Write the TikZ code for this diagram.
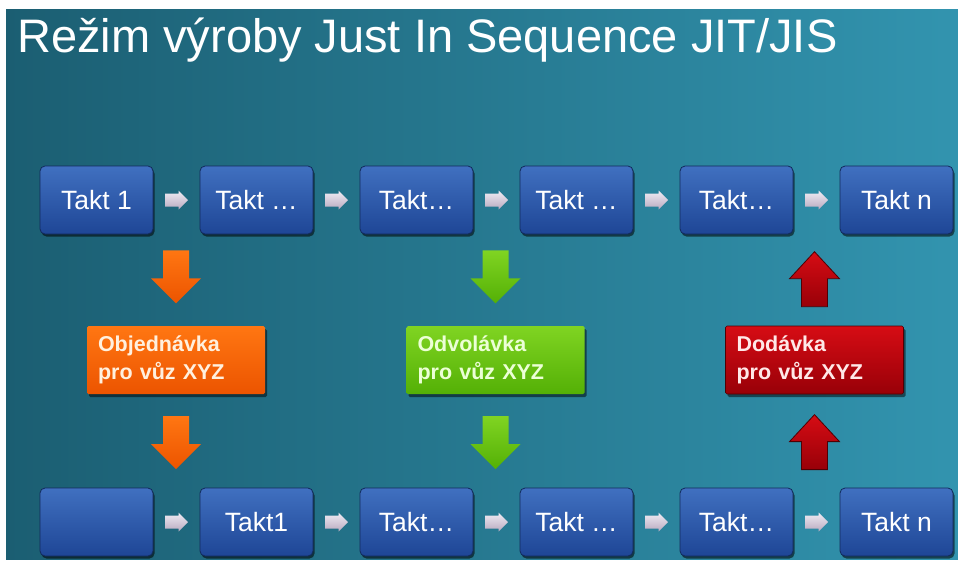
\documentclass[tikz,border=0pt]{standalone}
\usepackage{fontspec}
\setmainfont{Liberation Sans}
\usetikzlibrary{calc,shadows}

\definecolor{bgleft}{RGB}{27,94,114}
\definecolor{bgright}{RGB}{50,148,175}
\definecolor{boxtop}{RGB}{64,112,192}
\definecolor{boxbot}{RGB}{30,70,150}
\definecolor{boxedge}{RGB}{18,42,92}
\definecolor{arrtop}{RGB}{240,236,244}
\definecolor{arrbot}{RGB}{185,170,192}
\definecolor{ortop}{RGB}{255,118,18}
\definecolor{orbot}{RGB}{236,84,0}
\definecolor{ortext}{RGB}{255,240,222}
\definecolor{grtop}{RGB}{128,212,34}
\definecolor{grbot}{RGB}{84,176,6}
\definecolor{grtext}{RGB}{236,255,214}
\definecolor{rdtop}{RGB}{214,12,20}
\definecolor{rdbot}{RGB}{152,0,8}
\definecolor{rdtext}{RGB}{255,232,232}
\definecolor{rdedge}{RGB}{80,0,4}

\tikzset{
  takt/.style={rectangle, rounded corners=5pt, minimum width=113pt, minimum height=68pt,
    top color=boxtop, bottom color=boxbot, draw=boxedge, line width=0.8pt,
    text=white, inner sep=0pt, font=\fontsize{26.5}{30}\selectfont,
    drop shadow={shadow xshift=1.5pt, shadow yshift=-2.5pt, opacity=0.55, fill=black}},
  orderbox/.style={rectangle, rounded corners=1.5pt, minimum height=68pt,
    text width=156pt, inner xsep=11pt, inner ysep=0pt, align=left,
    font=\bfseries\fontsize{21.5}{28}\selectfont,
    drop shadow={shadow xshift=2pt, shadow yshift=-3pt, opacity=0.5, fill=black}},
  orangebox/.style={orderbox, top color=ortop, bottom color=orbot, text=ortext},
  greenbox/.style={orderbox, top color=grtop, bottom color=grbot, text=grtext},
  redbox/.style={orderbox, top color=rdtop, bottom color=rdbot, draw=rdedge, line width=0.6pt, text=rdtext},
  orangearr/.style={top color=ortop, bottom color=orbot},
  greenarr/.style={top color=grtop, bottom color=grbot},
  redarr/.style={top color=rdtop, bottom color=rdbot, draw=rdedge, line width=0.8pt},
  pics/smallarr/.style={code={
    \path[top color=arrtop, bottom color=arrbot]
      (-11.5,-6.5) -- (2,-6.5) -- (2,-9.5) -- (11.5,0) -- (2,9.5) -- (2,6.5) -- (-11.5,6.5) -- cycle;}},
  pics/blockdown/.style={code={
    \path[pic actions] (-13,0) -- (13,0) -- (13,28) -- (25,28) -- (0,53) -- (-25,28) -- (-13,28) -- cycle;}},
  pics/blockup/.style={code={
    \path[pic actions] (-13,0) -- (13,0) -- (13,-28) -- (25,-28) -- (0,-55) -- (-25,-28) -- (-13,-28) -- cycle;}},
}

\begin{document}
\begin{tikzpicture}[x=1pt, y=-1pt]
  \useasboundingbox (0,0) rectangle (958,563);
  \fill[white] (0,0) rectangle (958,563);
  \shade[left color=bgleft, right color=bgright] (6,9) rectangle (958,559);

  % title
  \node[anchor=base west, inner sep=0pt, text=white, font=\fontsize{47}{52}\selectfont]
    (title) at (17,52) {Režim výroby Just In Sequence JIT/JIS};

  % upper row of takts
  \node[takt] (t1) at (96.5,200) {Takt 1};
  \node[takt] (t2) at (256.5,200) {Takt …};
  \node[takt] (t3) at (416.5,200) {Takt…};
  \node[takt] (t4) at (576.5,200) {Takt …};
  \node[takt] (t5) at (736.5,200) {Takt…};
  \node[takt] (t6) at (896.5,200) {Takt n};

  % lower row of takts
  \node[takt] (b1) at (96.5,522) {};
  \node[takt] (b2) at (256.5,522) {Takt1};
  \node[takt] (b3) at (416.5,522) {Takt…};
  \node[takt] (b4) at (576.5,522) {Takt …};
  \node[takt] (b5) at (736.5,522) {Takt…};
  \node[takt] (b6) at (896.5,522) {Takt n};

  % small arrows between takts
  \foreach \a/\b in {t1/t2,t2/t3,t3/t4,t4/t5,t5/t6,b1/b2,b2/b3,b3/b4,b4/b5,b5/b6}
    \pic at ($(\a.east)!0.5!(\b.west)$) {smallarr};

  % order, call-off and delivery
  \node[orangebox] (ord) at (176,360) {Objednávka\\pro vůz XYZ};
  \node[greenbox] (odv) at (495.5,360) {Odvolávka\\pro vůz XYZ};
  \node[redbox] (dod) at (814.5,360) {Dodávka\\pro vůz XYZ};

  % block arrows
  \pic[orangearr] at ($(t1.south -| ord.north)+(0,16)$) {blockdown};
  \pic[orangearr] at ($(ord.south)+(0,22)$) {blockdown};
  \pic[greenarr] at ($(t3.south -| odv.north)+(0,16)$) {blockdown};
  \pic[greenarr] at ($(odv.south)+(0,22)$) {blockdown};
  \pic[redarr] at ($(dod.north)+(0,-19)$) {blockup};
  \pic[redarr] at ($(b6.north -| dod.south)+(0,-18)$) {blockup};
\end{tikzpicture}
\end{document}
